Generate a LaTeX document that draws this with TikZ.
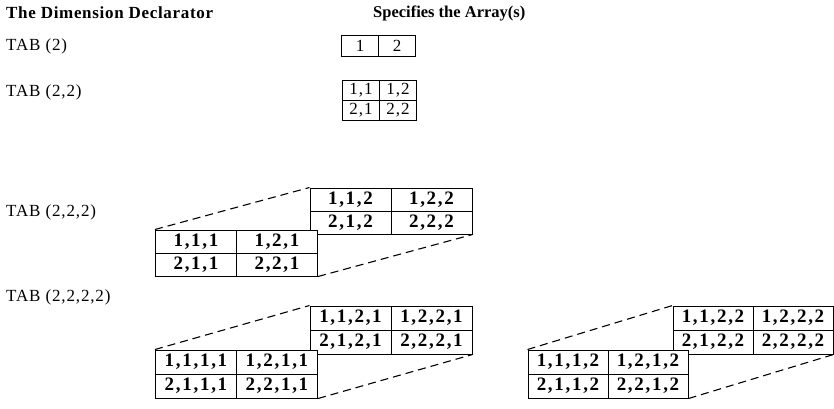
\documentclass[tikz,border=0pt]{standalone}
\usepackage{fontspec}
\setmainfont{Liberation Serif}
\tikzset{
  cell/.style={draw, fill=white, line width=1pt, inner sep=0pt, minimum width=37pt, minimum height=21pt, font=\fontsize{17}{17}\selectfont\addfontfeature{LetterSpace=6}},
  bigcell/.style={cell, minimum width=81pt, minimum height=23pt, font=\fontsize{19}{19}\selectfont\bfseries\addfontfeature{LetterSpace=9}},
  tablabel/.style={anchor=west, inner sep=0pt, font=\fontsize{17}{17}\selectfont\addfontfeature{LetterSpace=5}},
  headlabel/.style={anchor=west, inner sep=0pt, font=\fontsize{17}{17}\selectfont\bfseries},
  fold/.style={dash pattern=on 8pt off 5pt, line width=1.1pt}
}
\begin{document}
\begin{tikzpicture}[x=1pt,y=-1pt]
            \useasboundingbox (0,0) rectangle (834,408);
            \node[headlabel,font=\fontsize{17}{17}\selectfont\bfseries\addfontfeature{LetterSpace=4}] (hdecl) at (6,13) {The Dimension Declarator};
            \node[headlabel,font=\fontsize{16.5}{16.5}\selectfont\bfseries] (harr) at (373,13) {Specifies the Array(s)};
            \node[tablabel] (tabA) at (6,46) {TAB (2)};
            \node[cell] (a1) at (360,46) {1};
            \node[cell] (a2) at (397,46) {2};
            \node[tablabel] (tabB) at (6,92) {TAB (2,2)};
            \node[cell,minimum height=20pt] (b11) at (361,90) {1,1};
            \node[cell,minimum height=20pt] (b12) at (398,90) {1,2};
            \node[cell,minimum height=20pt] (b21) at (361,110) {2,1};
            \node[cell,minimum height=20pt] (b22) at (398,110) {2,2};
            \node[tablabel] (tabC) at (6,212) {TAB (2,2,2)};
            \node[bigcell] (c112) at (350.5,199.5) {1,1,2};
            \node[bigcell] (c122) at (431.5,199.5) {1,2,2};
            \node[bigcell] (c212) at (350.5,222.5) {2,1,2};
            \node[bigcell] (c222) at (431.5,222.5) {2,2,2};
            \node[bigcell] (c111) at (196,241.5) {1,1,1};
            \node[bigcell] (c121) at (277,241.5) {1,2,1};
            \node[bigcell] (c211) at (196,264.5) {2,1,1};
            \node[bigcell] (c221) at (277,264.5) {2,2,1};
            \draw[fold] (c111.north west) -- (c112.north west);
            \draw[fold] (c221.south east) -- (c222.south east);
            \node[tablabel] (tabD) at (6,297) {TAB (2,2,2,2)};
            \node[bigcell,minimum height=24pt] (d1121) at (350.5,318) {1,1,2,1};
            \node[bigcell,minimum height=24pt] (d1221) at (431.5,318) {1,2,2,1};
            \node[bigcell,minimum height=24pt] (d2121) at (350.5,342) {2,1,2,1};
            \node[bigcell,minimum height=24pt] (d2221) at (431.5,342) {2,2,2,1};
            \node[bigcell,minimum height=24pt] (d1111) at (196,362) {1,1,1,1};
            \node[bigcell,minimum height=24pt] (d1211) at (277,362) {1,2,1,1};
            \node[bigcell,minimum height=24pt] (d2111) at (196,386) {2,1,1,1};
            \node[bigcell,minimum height=24pt] (d2211) at (277,386) {2,2,1,1};
            \draw[fold] (d1111.north west) -- (d1121.north west);
            \draw[fold] (d2211.south east) -- (d2221.south east);
            \node[bigcell,minimum height=24pt,minimum width=80pt] (d1122) at (713,318) {1,1,2,2};
            \node[bigcell,minimum height=24pt,minimum width=80pt] (d1222) at (793,318) {1,2,2,2};
            \node[bigcell,minimum height=24pt,minimum width=80pt] (d2122) at (713,342) {2,1,2,2};
            \node[bigcell,minimum height=24pt,minimum width=80pt] (d2222) at (793,342) {2,2,2,2};
            \node[bigcell,minimum height=24pt,minimum width=80pt] (d1112) at (568,362) {1,1,1,2};
            \node[bigcell,minimum height=24pt,minimum width=80pt] (d1212) at (648,362) {1,2,1,2};
            \node[bigcell,minimum height=24pt,minimum width=80pt] (d2112) at (568,386) {2,1,1,2};
            \node[bigcell,minimum height=24pt,minimum width=80pt] (d2212) at (648,386) {2,2,1,2};
            \draw[fold] (d1112.north west) -- (d1122.north west);
            \draw[fold] (d2212.south east) -- (d2222.south east);
        \end{tikzpicture}
\end{document}
